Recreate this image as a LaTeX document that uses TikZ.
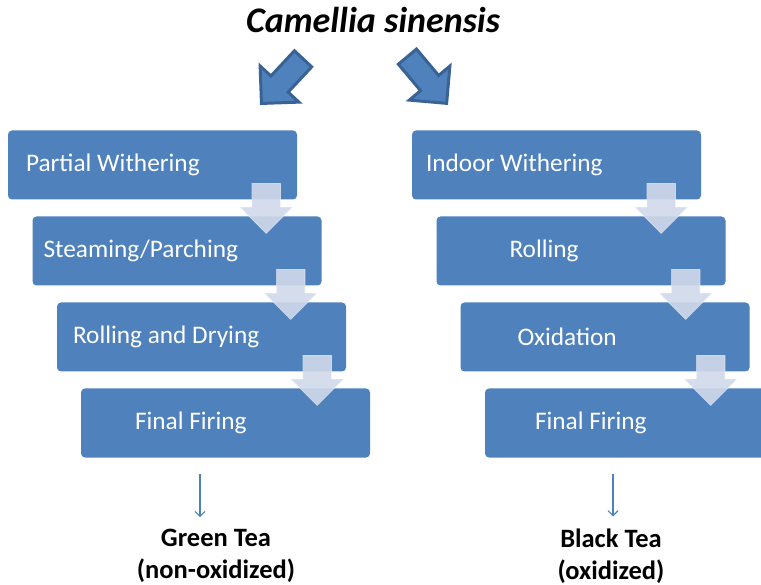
\documentclass[tikz,border=0pt]{standalone}
\usepackage{fontspec}
\setmainfont{Carlito}
\usetikzlibrary{shapes.arrows,arrows.meta}
\definecolor{boxblue}{HTML}{4F81BD}
\definecolor{edgeblue}{HTML}{3A6395}
\definecolor{paleblue}{HTML}{D0D9EB}

\begin{document}
\begin{tikzpicture}[x=1pt,y=-1pt,>={Straight Barb[length=5pt,width=10pt]},
  stage/.style={rectangle,rounded corners=4pt,fill=boxblue,minimum width=289pt,minimum height=69pt,inner sep=0pt},
  stage text/.style={anchor=west,text=white,font=\fontsize{25.3}{30}\selectfont,inner sep=0pt},
  step arrow/.style={single arrow,rotate=-90,anchor=tail,fill=paleblue,fill opacity=0.9,draw=white,draw opacity=0.5,line width=0.6pt,minimum height=50pt,single arrow head extend=12pt,single arrow head indent=0pt,inner xsep=0pt,inner ysep=14pt},
  big arrow/.style={single arrow,anchor=tip,fill=boxblue,draw=edgeblue,line width=3pt,minimum height=61pt,single arrow head extend=14.7pt,single arrow head indent=0pt,inner xsep=0pt,inner ysep=10.3pt},
  tea/.style={align=center,font=\bfseries\fontsize{26.5}{32}\selectfont,inner sep=0pt}]

  \clip (0,0) rectangle (761,585);

  \node[font=\bfseries\itshape\fontsize{36}{40}\selectfont] (cs) at (373,20) {Camellia sinensis};
  \node[big arrow,rotate=227] (gl) at (260,105) {};
  \node[big arrow,rotate=-50] (bl) at (448,105) {};

  % processing steps
  \foreach \name/\cx/\cy/\dx/\txt in {
    pw/152.5/165/18/Partial Withering,
    sp/177/251/11/{Steaming/Parching},
    rd/201.5/337/16/Rolling and Drying,
    ff/225.5/423/54/Final Firing,
    iw/556.5/165/14/Indoor Withering,
    ro/581/251/73/Rolling,
    ox/605/337/57/Oxidation,
    bf/629.5/423/50/Final Firing}
  {
    \node[stage] (\name) at (\cx,\cy) {};
    \node[stage text] (\name-t) at ([xshift=\dx pt]\name.west) {\txt};
  }

  \foreach \from/\dx in {pw/-31, sp/-31, rd/-29, iw/-40, ro/-40, ox/-39}
    \node[step arrow] (\from-a) at ([xshift=\dx pt,yshift=16.5pt]\from.south east) {};

  \node[tea] (gt) at (216,556) {Green Tea\\(non-oxidized)};
  \node[tea] (bt) at (611,556) {Black Tea\\(oxidized)};

  \coordinate (gt-in) at (200,474);
  \coordinate (bt-in) at (613,474);
  \draw[->,draw=boxblue,line width=1.1pt,shorten >=12pt] (gt-in) -- (gt-in |- gt.north);
  \draw[->,draw=boxblue,line width=1.1pt,shorten >=12pt] (bt-in) -- (bt-in |- bt.north);
\end{tikzpicture}
\end{document}
